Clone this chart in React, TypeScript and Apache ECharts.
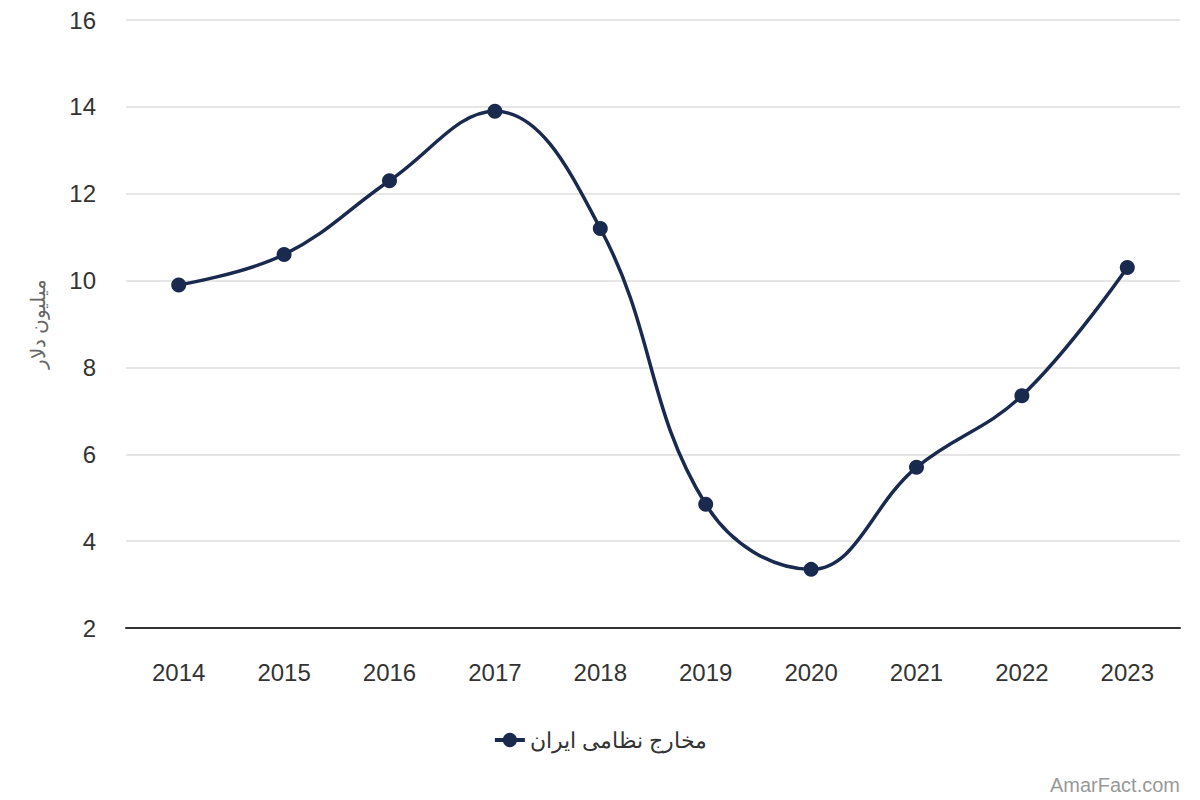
import React, { useEffect, useRef } from 'react';
import * as echarts from 'echarts';

const years = ['2014', '2015', '2016', '2017', '2018', '2019', '2020', '2021', '2022', '2023'];
const spending = [9.9, 10.6, 12.3, 13.9, 11.2, 4.85, 3.35, 5.7, 7.35, 10.3];
const seriesName = 'مخارج نظامی ایران';
const yAxisTitle = 'میلیون دلار';
const watermark = 'AmarFact.com';

export default function App() {
  const chartRef = useRef<HTMLDivElement>(null);

  useEffect(() => {
    document.body.style.margin = '0';
    if (!chartRef.current) return;
    const chart = echarts.init(chartRef.current, null, { renderer: 'svg' });

    chart.setOption({
      animation: false,
      textStyle: { fontFamily: 'Arial, "Liberation Sans", "Noto Sans", sans-serif' },
      grid: { left: 126, right: 20, top: 20, bottom: 172 },
      xAxis: {
        type: 'category',
        data: years,
        axisLine: { lineStyle: { color: '#333', width: 2 } },
        axisTick: { show: false },
        axisLabel: { color: '#333', fontSize: 24, margin: 32 }
      },
      yAxis: {
        type: 'value',
        min: 2,
        max: 16,
        interval: 2,
        name: yAxisTitle,
        nameLocation: 'middle',
        nameGap: 78,
        nameRotate: 90,
        nameTextStyle: { color: '#666', fontSize: 20 },
        axisLine: { show: false },
        axisTick: { show: false },
        axisLabel: { color: '#333', fontSize: 24, margin: 30 },
        splitLine: { lineStyle: { color: '#e6e6e6', width: 2 } }
      },
      legend: {
        bottom: 44,
        left: 'center',
        itemWidth: 30,
        itemHeight: 18,
        textStyle: { color: '#333', fontSize: 22 },
        lineStyle: { width: 4 },
        data: [seriesName]
      },
      graphic: [
        {
          type: 'text',
          right: 20,
          bottom: 5,
          style: { text: watermark, fill: '#999', fontSize: 20, fontFamily: 'Arial, "Liberation Sans", sans-serif' }
        }
      ],
      series: [
        {
          name: seriesName,
          type: 'line',
          data: spending,
          smooth: 0.4,
          symbol: 'circle',
          symbolSize: 15,
          lineStyle: { color: '#1a2a4f', width: 3.5 },
          itemStyle: { color: '#1a2a4f' }
        }
      ]
    });

    return () => {
      chart.dispose();
    };
  }, []);

  return <div ref={chartRef} style={{ width: 1200, height: 800 }} />;
}
